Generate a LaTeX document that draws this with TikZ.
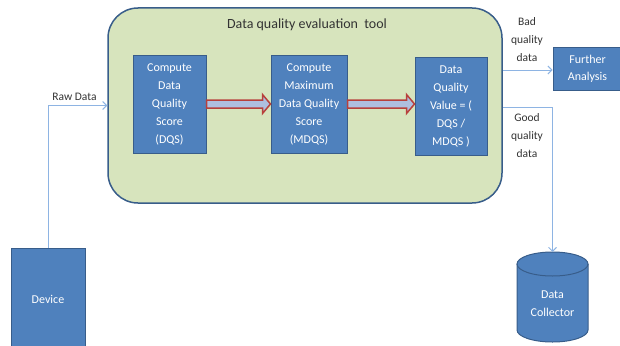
\documentclass[tikz,border=0pt]{standalone}
\usepackage{fontspec}
\setmainfont{Carlito}
\usetikzlibrary{arrows.meta,calc}
\definecolor{boxblue}{HTML}{4F81BD}
\definecolor{boxedge}{HTML}{385D8A}
\definecolor{toolfill}{HTML}{D7E4BD}
\definecolor{linkblue}{HTML}{8EB4E3}
\definecolor{flowred}{HTML}{B8403C}
\definecolor{flowfill}{HTML}{AEBFE0}
\definecolor{labelgray}{HTML}{333333}
\tikzset{
  stepbox/.style={draw=boxedge, line width=1pt, fill=boxblue, text=white,
    align=center, font=\fontsize{12}{18}\selectfont, inner sep=0pt},
  toolbox/.style={draw=boxedge, line width=1.5pt, fill=toolfill,
    rounded corners=30pt},
  link/.style={draw=linkblue, line width=0.9pt,
    -{Straight Barb[length=4pt,width=8pt]}},
  flow/.style={draw=flowred, line width=1.5pt, fill=flowfill, line join=miter},
  lbl/.style={text=labelgray, align=center, font=\fontsize{11.5}{18}\selectfont,
    inner sep=0pt}
}
\begin{document}
\begin{tikzpicture}[x=1pt,y=-1pt]
\useasboundingbox (0,0) rectangle (620,345);

% evaluation tool container
\node[toolbox, minimum width=394pt, minimum height=195pt] (tool) at (305,105.5) {};
\node[lbl, font=\fontsize{14}{16}\selectfont] (title) at (307,25) {Data quality evaluation\ \ tool};

% processing steps
\node[stepbox, minimum width=73pt, minimum height=98pt] (dqs) at (169.5,104)
  {Compute\\Data\\Quality\\Score\\(DQS)};
\node[stepbox, minimum width=76pt, minimum height=98pt] (mdqs) at (309,104)
  {Compute\\Maximum\\Data Quality\\Score\\(MDQS)};
\node[stepbox, minimum width=72pt, minimum height=98pt] (dqv) at (451,106)
  {Data\\Quality\\Value = (\\DQS /\\MDQS )};

% outside parts
\node[stepbox, minimum width=74pt, minimum height=102pt] (device) at (48,299) {Device};
\node[stepbox, font=\fontsize{12}{17}\selectfont, minimum width=69pt, minimum height=42pt] (fa) at (587.5,69)
  {Further\\Analysis};

% data collector drum
\fill[boxblue] (517,264) -- (517,330) arc[start angle=180, end angle=360, x radius=35.5, y radius=-12]
  -- (588,264) arc[start angle=0, end angle=180, x radius=35.5, y radius=-12] -- cycle;
\draw[boxedge, line width=1pt] (517,264) -- (517,330)
  arc[start angle=180, end angle=360, x radius=35.5, y radius=-12] -- (588,264);
\draw[boxedge, line width=1pt] (552.5,264) ellipse[x radius=35.5, y radius=12];
\coordinate (dctop) at (552.5,252);
\node[stepbox, draw=none, fill=none] (dc) at (552.5,304) {Data\\Collector};

% wide flow arrows between steps
\foreach \a/\b in {dqs/mdqs, mdqs/dqv}{
  \draw[flow] ($(\a.east)+(0,-4)$) -- ($(\b.west |- \a.east)+(-8,-4)$)
    -- ($(\b.west |- \a.east)+(-8,-9.5)$) -- (\b.west |- \a.east)
    -- ($(\b.west |- \a.east)+(-8,9.5)$) -- ($(\b.west |- \a.east)+(-8,4)$)
    -- ($(\a.east)+(0,4)$) -- cycle;
}

% data links
\coordinate (badrow) at (0,70);
\coordinate (goodrow) at (0,107);
\draw[link] (device.north) |- (tool.west);
\draw[link] (tool.east |- badrow) -- (fa.west |- badrow);
\draw[link] (tool.east |- goodrow) -| (dctop);

% link labels
\node[lbl] (raw) at (74.5,97) {Raw Data};
\node[lbl] (bad) at (527,40) {Bad\\quality\\data};
\node[lbl] (good) at (527,136) {Good\\quality\\data};
\end{tikzpicture}
\end{document}
